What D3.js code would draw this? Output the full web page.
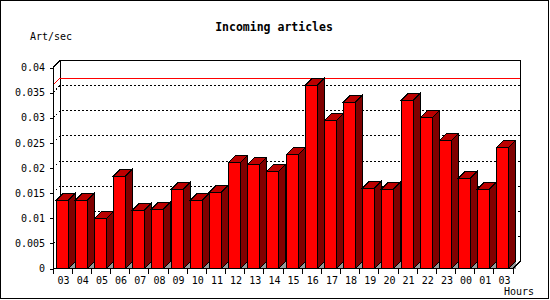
<!DOCTYPE html>
<html>
<head>
<meta charset="utf-8">
<script src="https://cdn.jsdelivr.net/npm/d3@7"></script>
<style>
  body { margin: 0; background: #fff; }
  text { font-family: "DejaVu Sans Mono", monospace; fill: #000; }
</style>
</head>
<body>
<script>
// Hour labels and article rate per hour
var hours = ["03","04","05","06","07","08","09","10","11","12","13","14","15","16","17","18","19","20","21","22","23","00","01","03"];
var rates = [0.0136, 0.0136, 0.0099, 0.0184, 0.0116, 0.0118, 0.0158, 0.0136, 0.0152, 0.0211, 0.0207, 0.0193, 0.0227,
             0.0365, 0.0295, 0.0331, 0.0160, 0.0158, 0.0335, 0.0301, 0.0255, 0.0180, 0.0158, 0.0241];
var yTicks = [0, 0.005, 0.01, 0.015, 0.02, 0.025, 0.03, 0.035, 0.04];

var width = 550, height = 300;
var dx = 7, dy = -7; // 3d depth offset

var svg = d3.select("body").append("svg")
  .attr("width", width)
  .attr("height", height)
  .attr("shape-rendering", "crispEdges");

// frame
svg.append("rect")
  .attr("x", 0.5).attr("y", 0.5)
  .attr("width", 548).attr("height", 298)
  .style("fill", "none").style("stroke", "#000");

var x = d3.scaleBand()
  .domain(d3.range(hours.length))
  .range([53, 513])
  .padding(0);

var y = d3.scaleLinear()
  .domain([0, 0.04])
  .range([268.5, 67.5]);

var left = 53, right = 513, y0 = y(0);

// back wall
svg.append("path")
  .attr("d", "M" + (left + dx) + "," + (y0 + dy) + "V" + (y(0.04) + dy) + "H" + (right + dx) + "V" + (y0 + dy))
  .style("fill", "none").style("stroke", "#000");

// dotted grid lines on back wall + side wall
var grid = yTicks.slice(1, -1);
svg.selectAll(".grid")
  .data(grid)
  .enter().append("path")
  .attr("class", "grid")
  .attr("d", function(d) {
    return "M" + left + "," + y(d) + "L" + (left + dx) + "," + (y(d) + dy) + "H" + (right + dx);
  })
  .style("fill", "none").style("stroke", "#000").style("stroke-dasharray", "2,2");

// max line
var maxVal = d3.max(rates);
svg.append("path")
  .attr("d", "M" + left + "," + y(maxVal) + "L" + (left + dx) + "," + (y(maxVal) + dy) + "H" + (right + dx))
  .style("fill", "none").style("stroke", "#ff0000");

// bars
var bw = 12;
var bars = svg.selectAll(".bar")
  .data(rates)
  .enter().append("g")
  .attr("class", "bar");

function bx(i) { return Math.round(x(i) + (x.bandwidth() - bw) / 2) - 0.5; }

bars.append("path")
  .attr("d", function(d, i) {
    var a = bx(i) + bw;
    return "M" + a + "," + y0 + "L" + (a + dx) + "," + (y0 + dy) + "V" + y0 + "Z";
  })
  .style("fill", "#999").style("stroke", "none");

bars.append("path")
  .attr("d", function(d, i) {
    var a = bx(i) + bw, t = y(d);
    return "M" + a + "," + t + "L" + (a + dx) + "," + (t + dy) + "V" + (y0 + dy) + "L" + a + "," + y0 + "Z";
  })
  .style("fill", "#800000").style("stroke", "#000");

bars.append("path")
  .attr("d", function(d, i) {
    var a = bx(i), t = y(d);
    return "M" + a + "," + t + "L" + (a + dx) + "," + (t + dy) + "H" + (a + bw + dx) + "L" + (a + bw) + "," + t + "Z";
  })
  .style("fill", "#bb0000").style("stroke", "#000");

bars.append("rect")
  .attr("x", function(d, i) { return bx(i); })
  .attr("y", function(d) { return y(d); })
  .attr("width", bw)
  .attr("height", function(d) { return y0 - y(d); })
  .style("fill", "#ff0000").style("stroke", "#000");

// y axis
svg.append("path")
  .attr("d", "M" + (left + dx) + "," + (y(0.04) + dy) + "L" + left + "," + y(0.04) + "V" + (y0 + 3))
  .style("fill", "none").style("stroke", "#000");

var yAxis = svg.append("g")
  .attr("transform", "translate(" + left + ",0)")
  .call(d3.axisLeft(y)
    .tickValues(yTicks)
    .tickSize(3)
    .tickSizeOuter(0)
    .tickPadding(5)
    .tickFormat(function(d) { return String(+d.toFixed(3)); }));
yAxis.select(".domain").remove();
yAxis.selectAll("text").style("font-family", "DejaVu Sans Mono").style("font-size", "10px");

// x axis
svg.append("path")
  .attr("d", "M" + left + "," + y0 + "H" + right + "L" + (right + dx) + "," + (y0 + dy))
  .style("fill", "none").style("stroke", "#000");

svg.selectAll(".xtick")
  .data(d3.range(hours.length + 1))
  .enter().append("line")
  .attr("class", "xtick")
  .attr("x1", function(i) { return i < hours.length ? x(i) : right; })
  .attr("x2", function(i) { return i < hours.length ? x(i) : right; })
  .attr("y1", y0)
  .attr("y2", y0 + 5)
  .style("stroke", "#000");

svg.selectAll(".xlabel")
  .data(hours)
  .enter().append("text")
  .attr("class", "xlabel")
  .attr("x", function(d, i) { return x(i) + x.bandwidth() / 2 + 1; })
  .attr("y", 284)
  .attr("text-anchor", "middle")
  .style("font-size", "10px")
  .text(function(d) { return d; });

// titles
svg.append("text")
  .attr("x", 274).attr("y", 31)
  .attr("text-anchor", "middle")
  .style("font-size", "11.5px").style("font-weight", "bold")
  .text("Incoming articles");

svg.append("text")
  .attr("x", 30).attr("y", 40)
  .style("font-size", "10px")
  .text("Art/sec");

svg.append("text")
  .attr("x", 534).attr("y", 295)
  .attr("text-anchor", "end")
  .style("font-size", "10px")
  .text("Hours");
</script>
</body>
</html>
